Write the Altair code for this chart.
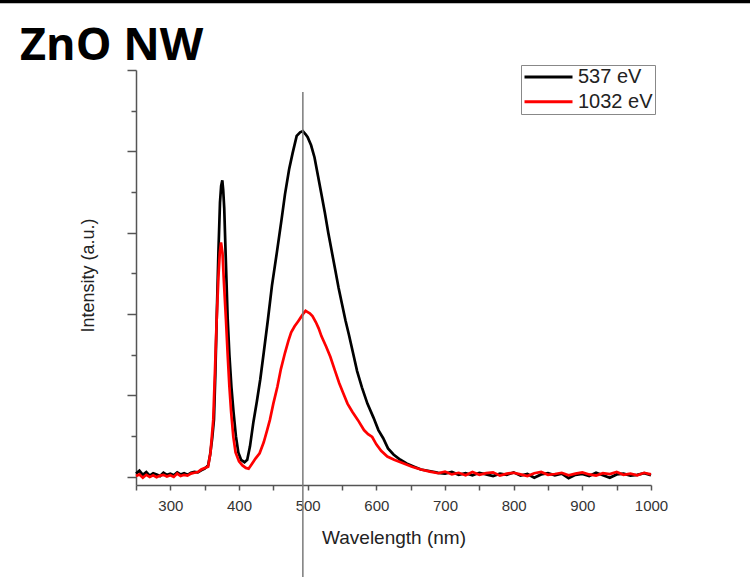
import altair as alt
import pandas as pd

# ---------------- data ----------------
chart_title = ["ZnO NW"]
series_names = ["537 eV", "1032 eV"]
series_colors = ["#000000", "#ff0000"]

left_wl = [250, 255, 260, 265, 270, 275, 280, 285, 290, 295,
           300, 305, 310, 315, 320, 325, 330, 335, 340, 345]
black_left = [0.08, 0.15, 0.05, 0.12, 0.03, 0.09, 0.06, 0.02, 0.10, 0.05,
              0.08, 0.04, 0.11, 0.06, 0.09, 0.05, 0.10, 0.12, 0.11, 0.16]
red_left = [0.02, 0.06, -0.02, 0.05, 0.00, 0.04, -0.01, 0.03, 0.05, 0.01,
            0.04, 0.00, 0.08, 0.02, 0.05, 0.03, 0.08, 0.10, 0.12, 0.18]

black_main_wl = [350, 355, 358, 361, 363.5, 365.5, 367.5, 370, 372.3, 374,
                 375.7, 377, 378.5, 380.5, 383.5, 386, 389, 392, 395.5, 399,
                 403, 408, 412, 416, 421, 426, 431, 436, 442, 448,
                 455, 462, 467, 473, 478, 484, 489, 493, 497, 500,
                 505, 510, 515, 520, 525, 530, 535, 540, 545, 550,
                 555, 560, 566, 572, 579, 587, 596, 603, 610, 617,
                 625, 635, 644, 655, 665, 675, 685]
black_main = [0.20, 0.28, 0.55, 0.95, 1.4, 2.5, 3.87, 5.5, 6.74, 7.15,
              7.29, 7.05, 6.6, 5.5, 3.9, 3.0, 2.2, 1.6, 1.0, 0.6,
              0.42, 0.36, 0.42, 0.75, 1.35, 1.85, 2.4, 3.05, 3.85, 4.7,
              5.5, 6.33, 6.95, 7.56, 7.95, 8.38, 8.47, 8.5, 8.42, 8.35,
              8.15, 7.85, 7.4, 6.95, 6.5, 6.0, 5.55, 5.1, 4.65, 4.25,
              3.85, 3.5, 3.05, 2.6, 2.2, 1.8, 1.45, 1.15, 0.95, 0.7,
              0.55, 0.42, 0.33, 0.25, 0.18, 0.15, 0.12]

red_main_wl = [350, 355, 358.5, 362.5, 365, 367.5, 370, 372, 373.8, 376,
               378, 381, 383.5, 386, 388.5, 391.7, 395, 400, 405, 410,
               414, 418, 424, 430, 436, 441, 445, 450, 456, 461,
               467, 472, 476, 481, 486, 490, 494, 497, 500, 503,
               507, 512, 516, 520, 527, 533, 540, 546, 552, 558,
               565, 573, 582, 588, 594, 600, 607, 616, 626, 640,
               652, 665, 678]
red_main = [0.22, 0.25, 0.6, 1.4, 2.6, 3.87, 4.9, 5.5, 5.76, 5.5,
            4.8, 3.87, 3.0, 2.22, 1.6, 0.99, 0.6, 0.38, 0.28, 0.22,
            0.2, 0.3, 0.45, 0.58, 0.85, 1.15, 1.4, 1.8, 2.22, 2.65,
            3.05, 3.35, 3.55, 3.7, 3.82, 3.92, 4.02, 4.08, 4.05, 4.02,
            3.95, 3.8, 3.65, 3.46, 3.2, 2.95, 2.6, 2.3, 2.05, 1.8,
            1.6, 1.4, 1.15, 1.05, 0.98, 0.8, 0.64, 0.5, 0.42, 0.33,
            0.25, 0.18, 0.13]

right_wl = [690, 700, 710, 720, 730, 740, 750, 760, 770, 780,
            790, 800, 810, 820, 830, 840, 850, 860, 870, 880,
            890, 900, 910, 920, 930, 940, 950, 960, 970, 980,
            990, 1000]
black_right = [0.10, 0.08, 0.12, 0.05, 0.09, 0.04, 0.10, 0.06, 0.02, 0.08,
               0.05, 0.11, 0.03, 0.07, -0.02, 0.06, 0.09, 0.04, 0.08, -0.03,
               0.05, 0.07, 0.02, 0.10, 0.04, -0.02, 0.06, 0.08, 0.03, 0.05,
               0.09, 0.04]
red_right = [0.09, 0.13, 0.06, 0.10, 0.04, 0.12, 0.05, 0.09, 0.11, 0.03,
             0.08, 0.10, 0.06, 0.02, 0.09, 0.12, 0.05, 0.07, 0.10, 0.04,
             0.08, 0.11, 0.06, 0.03, 0.09, 0.07, 0.12, 0.05, 0.08, 0.04,
             0.10, 0.06]

marker_wl = [493]
marker_top = [9.46]
marker_bottom = [-2.5]

x_ticks = list(range(250, 1001, 50))
y_ticks = list(range(0, 11))

# ---------------- build tables ----------------
black_df = pd.DataFrame({
    "wl": left_wl + black_main_wl + right_wl,
    "v": black_left + black_main + black_right,
    "series": series_names[0],
})
red_df = pd.DataFrame({
    "wl": left_wl + red_main_wl + right_wl,
    "v": red_left + red_main + red_right,
    "series": series_names[1],
})
marker_df = pd.DataFrame({"wl": marker_wl, "top": marker_top, "bottom": marker_bottom})
title_df = pd.DataFrame({"label": chart_title})

FONT = "Liberation Sans"
AXIS_COLOR = "#555555"

xscale = alt.Scale(domain=[250, 1000], nice=False, zero=False)
yscale = alt.Scale(domain=[-0.2, 10], nice=False, zero=False)
cscale = alt.Scale(domain=series_names, range=series_colors)

x_axis = alt.Axis(
    title="Wavelength (nm)", values=x_ticks, format="d",
    labelExpr="datum.value % 100 === 0 ? datum.label : ''",
    labelOverlap=False, labelFlush=False,
    grid=False, domainColor=AXIS_COLOR, domainWidth=1.5,
    tickColor=AXIS_COLOR, tickWidth=1.5, tickSize=5,
    labelFont=FONT, labelFontSize=15, labelColor="#333333", labelPadding=8,
    titleFont=FONT, titleFontSize=19, titleFontWeight="normal", titleColor="#222222",
    titleBaseline="alphabetic", titleY=58,
)
y_axis = alt.Axis(
    title="Intensity (a.u.)", values=y_ticks, labels=False, grid=False,
    domainColor=AXIS_COLOR, domainWidth=1.5,
    tickColor=AXIS_COLOR, tickWidth=1.5,
    tickSize={"condition": {"test": "datum.value % 2 === 0", "value": 9}, "value": 5},
    titleFont=FONT, titleFontSize=18, titleFontWeight="normal", titleColor="#222222",
    titleBaseline="alphabetic", titleAngle=-90, titleAlign="center",
    titleX=-43, titleY=205,
)

legend = alt.Legend(
    orient="none", legendX=385, legendY=-5, title=None,
    symbolType="stroke", symbolSize=2304, symbolStrokeWidth=3,
    clipHeight=20, rowPadding=4.7, labelOffset=4,
    labelFont=FONT, labelFontSize=20, labelColor="#222222",
    strokeColor="#888888", fillColor="white", padding=2,
)

x_enc = alt.X("wl:Q", scale=xscale, axis=x_axis)
y_enc = alt.Y("v:Q", scale=yscale, axis=y_axis)
c_enc = alt.Color("series:N", scale=cscale, legend=legend)

black_line = alt.Chart(black_df).mark_line(strokeWidth=2.7).encode(
    x=x_enc, y=y_enc, color=c_enc,
)
red_line = alt.Chart(red_df).mark_line(strokeWidth=2.7).encode(
    x=x_enc, y=y_enc, color=c_enc,
)
marker = alt.Chart(marker_df).mark_rule(color="#7a7a7a", strokeWidth=1.5).encode(
    x=alt.X("wl:Q", scale=xscale, axis=x_axis),
    y=alt.Y("top:Q", scale=yscale, axis=y_axis),
    y2="bottom:Q",
)
top_bar = alt.Chart(marker_df).mark_rule(color="#000000", strokeWidth=3.5).encode(
    x=alt.value(-136), x2=alt.value(614), y=alt.value(-68.5),
)
title_mark = alt.Chart(title_df).mark_text(
    font="Open Sans", fontSize=45, fontWeight="bold", color="#000000",
    align="left", baseline="alphabetic",
).encode(
    text="label:N", x=alt.value(-116), y=alt.value(-10),
)

chart = alt.layer(black_line, red_line, marker, top_bar, title_mark).properties(
    width=515, height=415,
    autosize=alt.AutoSizeParams(type="none"),
    padding={"left": 136, "top": 70, "right": 99, "bottom": 92},
    background="white",
).configure_view(stroke=None)

chart.save("out.html", embed_options={"renderer": "svg", "actions": False})
